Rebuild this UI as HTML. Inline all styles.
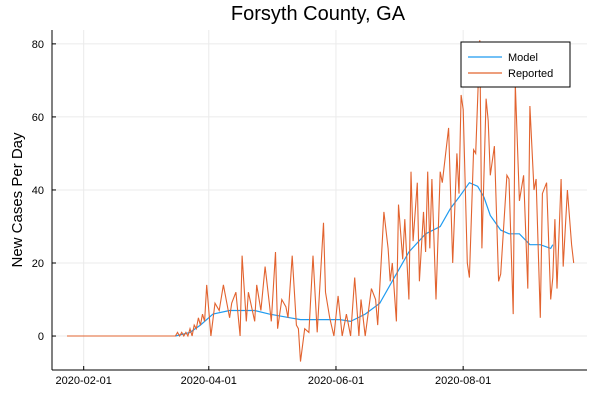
<!DOCTYPE html>
<html><head><meta charset="utf-8"><style>
body{margin:0;background:#fff;font-family:"Liberation Sans",sans-serif}
</style></head><body>
<svg id="chart" width="600" height="400" xmlns="http://www.w3.org/2000/svg">
<text x="318" y="20" font-size="20" text-anchor="middle" fill="#000">Forsyth County, GA</text>
<text transform="translate(22,200) rotate(-90)" font-size="15" text-anchor="middle" fill="#000">New Cases Per Day</text>
<g id="grid"></g><g id="axes"></g><g id="series"></g>
<g>
<rect x="461" y="42" width="109" height="45" fill="#fff" stroke="#000" stroke-width="1"/>
<line x1="468" y1="57" x2="502" y2="57" stroke="#1f9bf0" stroke-width="1.2"/>
<text x="508" y="61" font-size="11">Model</text>
<line x1="468" y1="73" x2="502" y2="73" stroke="#e2632f" stroke-width="1.2"/>
<text x="508" y="77" font-size="11">Reported</text>
</g>
</svg>
<script>
// day offsets from 2020-01-24
const reportedDays=[0,52,53,54,55,56,57,58,59,60,61,62,63,64,65,66,67,69,71,73,75,78,79,81,83,84,86,87,90,91,93,95,97,98,100,101,103,105,106,108,110,111,112,114,116,118,120,123,124,126,128,130,132,134,136,138,140,141,143,146,148,149,152,154,155,156,158,159,161,162,164,165,166,168,169,171,172,173,174,175,177,179,180,183,185,187,188,189,190,192,193,195,196,198,199,201,202,203,205,207,208,211,212,214,215,217,219,221,222,224,225,227,228,230,232,233,234,235,237,238,240,242,243];
const reportedValues=[0,0,1,0,1,0,1,0,2,0,3,2,5,3,6,4,14,0,9,7,14,5,9,12,0,22,4,12,4,14,7,19,9,4,23,2,10,8,5,22,3,2,-7,2,1,22,1,31,12,5,0,11,0,6,0,16,0,10,0,13,10,3,34,24,15,20,4,36,21,32,10,45,26,42,15,34,23,45,24,43,10,45,42,57,20,50,39,66,62,20,16,51,50,81,24,65,59,44,52,15,17,44,43,6,69,37,44,13,63,40,43,5,39,42,10,16,32,13,43,19,40,25,20];
const modelDays=[52,59,64,70,78,90,97,107,112,131,136,143,150,157,164,172,179,184,188,193,197,200,203,208,212,217,222,227,232,233];
const modelValues=[0,1,3,6,7,7,6,5,4.5,4.5,4,6,9,16,23,28,30,35,38,42,41,38,33,29,28,28,25,25,24,25];
</script>
<script>
(function(){
const NS="http://www.w3.org/2000/svg";
const L=52,R=587,T=30,B=370;
const dMin=-7.2,dMax=249.4,vMin=-9.3,vMax=83.8;
const xs=d=>L+(d-dMin)/(dMax-dMin)*(R-L);
const ys=v=>B-(v-vMin)/(vMax-vMin)*(B-T);
const yTicks=[0,20,40,60,80];
const xTickDays=[8,68,129,190];
const xTickLabels=["2020-02-01","2020-04-01","2020-06-01","2020-08-01"];
const grid=document.getElementById('grid'),axes=document.getElementById('axes'),series=document.getElementById('series');
function mk(tag,attrs,parent){const e=document.createElementNS(NS,tag);for(const k in attrs)e.setAttribute(k,attrs[k]);parent.appendChild(e);return e;}
yTicks.forEach(v=>{
  const g=mk('line',{x1:L,x2:R,y1:ys(v),y2:ys(v),stroke:'#ebebeb','stroke-width':1},grid);
  
  
  const t=mk('text',{x:L-8,y:ys(v)+4,'font-size':11,'text-anchor':'end'},axes);
  t.textContent=v;
  
  
  mk('line',{x1:L,x2:L+4,y1:ys(v),y2:ys(v),stroke:'#000'},axes);
});
xTickDays.forEach((d,i)=>{
  const g=mk('line',{x1:xs(d),x2:xs(d),y1:T,y2:B,stroke:'#ebebeb','stroke-width':1},grid);
  
  
  const t=mk('text',{x:xs(d),y:B+14,'font-size':11,'text-anchor':'middle'},axes);
  t.textContent=xTickLabels[i];
  
  
  mk('line',{x1:xs(d),x2:xs(d),y1:B,y2:B-4,stroke:'#000'},axes);
});
const ya=mk('line',{x1:L,x2:L,y1:T,y2:B,stroke:'#000'},axes);


const xa=mk('line',{x1:L,x2:R,y1:B,y2:B,stroke:'#000'},axes);


function pts(ds,vs){const p=ds.map((d,i)=>[d,vs[i]]).sort((a,b)=>a[0]-b[0]);return p.map(q=>xs(q[0]).toFixed(1)+','+ys(q[1]).toFixed(1)).join(' ');}
const m=mk('polyline',{points:pts(modelDays,modelValues),fill:'none',stroke:'#1f9bf0','stroke-width':1.2},series);


const r=mk('polyline',{points:pts(reportedDays,reportedValues),fill:'none',stroke:'#e2632f','stroke-width':1.1},series);


})();
</script>
</body></html>
